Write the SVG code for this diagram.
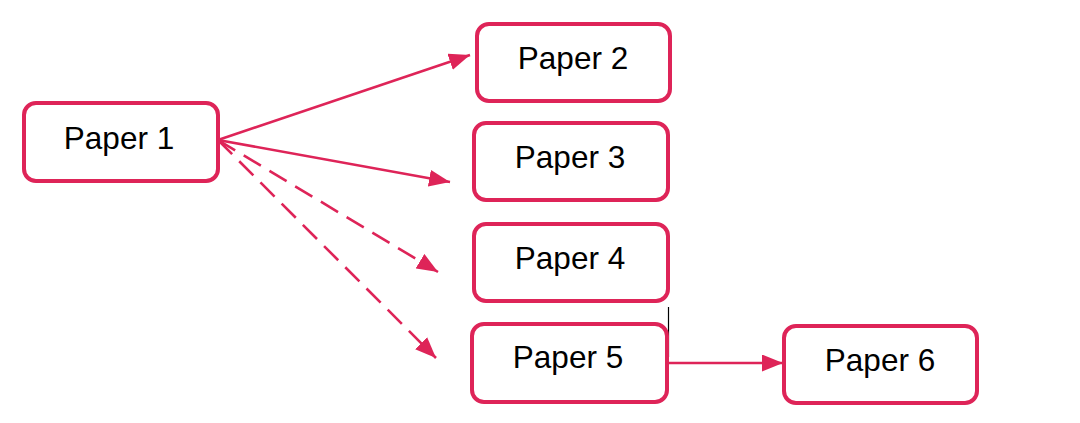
<svg xmlns="http://www.w3.org/2000/svg" width="1080" height="423" viewBox="0 0 1080 423">
<style>
.box{fill:#fff;stroke:#DE2458;stroke-width:4}
.lbl{font-family:"Liberation Sans",Arial,sans-serif;font-size:31.5px;fill:#000;text-anchor:middle;dominant-baseline:central}
.ln{stroke:#DE2458;stroke-width:2.6;fill:none}
.dash{stroke-dasharray:20 10}
</style>
<defs>
<marker id="a" viewBox="0 0 21 17" refX="21" refY="8.5" markerWidth="21" markerHeight="17" markerUnits="userSpaceOnUse" orient="auto">
<path d="M0,0 L21,8.5 L0,17 z" fill="#DE2458"/>
</marker>
</defs>
<rect width="1080" height="423" fill="#fff"/>
<g id="connectors">
<line class="ln" x1="218" y1="140" x2="470" y2="55" marker-end="url(#a)"/>
<line class="ln" x1="218" y1="140" x2="450" y2="182" marker-end="url(#a)"/>
<line class="ln dash" x1="218" y1="140" x2="438" y2="272" marker-end="url(#a)"/>
<line class="ln dash" x1="218" y1="140" x2="436" y2="358" marker-end="url(#a)"/>
<line class="ln" x1="668" y1="363" x2="783" y2="363" marker-end="url(#a)"/>
<line x1="668.5" y1="307" x2="668.5" y2="357" stroke="#000" stroke-width="1.2"/>
</g>
<g id="paper1"><rect class="box" x="24" y="103" width="194" height="78" rx="12"/><text class="lbl" x="119" y="138">Paper 1</text></g>
<g id="paper2"><rect class="box" x="477" y="24" width="193" height="77" rx="12"/><text class="lbl" x="573" y="58">Paper 2</text></g>
<g id="paper3"><rect class="box" x="474" y="123" width="194" height="77" rx="12"/><text class="lbl" x="570" y="157">Paper 3</text></g>
<g id="paper4"><rect class="box" x="474" y="224" width="194" height="77" rx="12"/><text class="lbl" x="570" y="258">Paper 4</text></g>
<g id="paper5"><rect class="box" x="472" y="324" width="195" height="78" rx="12"/><text class="lbl" x="568" y="357">Paper 5</text></g>
<g id="paper6"><rect class="box" x="784" y="326" width="193" height="77" rx="12"/><text class="lbl" x="880" y="360">Paper 6</text></g>
</svg>
